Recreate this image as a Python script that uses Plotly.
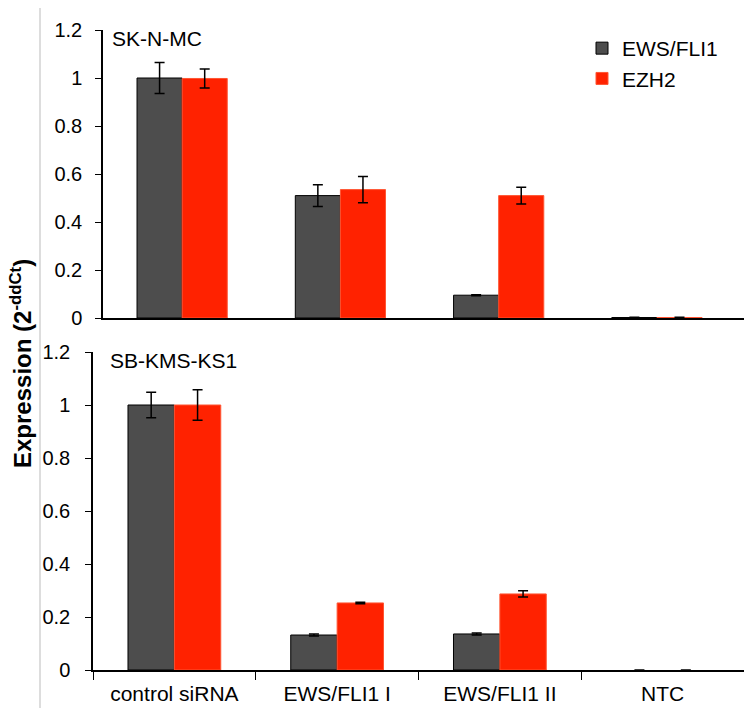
import plotly.graph_objects as go

categories = ["control siRNA", "EWS/FLI1 I", "EWS/FLI1 II", "NTC"]

# SK-N-MC (top panel)
top_ews = [1.0, 0.51, 0.095, 0.002]
top_ews_err = [0.065, 0.045, 0.002, 0.001]
top_ezh2 = [0.998, 0.535, 0.51, 0.002]
top_ezh2_err = [0.04, 0.055, 0.035, 0.001]

# SB-KMS-KS1 (bottom panel)
bot_ews = [1.0, 0.132, 0.136, 0.0]
bot_ews_err = [0.048, 0.004, 0.004, float("nan")]
bot_ezh2 = [1.0, 0.253, 0.287, 0.0]
bot_ezh2_err = [0.058, 0.003, 0.012, float("nan")]

DARK = "#4d4d4d"
RED = "#ff2200"
FONT = "Liberation Sans, Arial, sans-serif"

fig = go.Figure()

def add(vals, errs, color, name, xa, ya, show, lc):
    lw = [0 if v == 0 else 1 for v in vals]
    fig.add_trace(go.Bar(
        x=categories, y=vals, name=name, xaxis=xa, yaxis=ya,
        marker=dict(color=color, line=dict(color=lc, width=lw)),
        error_y=dict(type="data", array=errs, visible=True, color="black",
                     thickness=1.5, width=5),
        showlegend=show, legendgroup=name,
    ))

add(top_ews, top_ews_err, DARK, "EWS/FLI1", "x", "y", True, "black")
add(top_ezh2, top_ezh2_err, RED, "EZH2", "x", "y", True, "#ff5533")
add(bot_ews, bot_ews_err, DARK, "EWS/FLI1", "x2", "y2", False, "black")
add(bot_ezh2, bot_ezh2_err, RED, "EZH2", "x2", "y2", False, "#ff5533")

W, H = 744, 708

def px(v):
    return v / W

def py(v):
    return 1 - v / H

def yax(standoff):
    return dict(range=[0, 1.2], dtick=0.2, showline=True, linecolor="black",
                linewidth=1.5, ticks="outside", ticklen=6, tickcolor="black",
                showgrid=False, zeroline=False, automargin=False,
                tickfont=dict(family=FONT, size=20, color="black"),
                ticklabelstandoff=standoff)

fig.update_layout(
    template="none",
    width=W, height=H,
    margin=dict(l=0, r=0, t=0, b=0, autoexpand=False),
    plot_bgcolor="white", paper_bgcolor="white",
    barmode="group", bargap=0.43, bargroupgap=0,
    font=dict(family=FONT, color="black"),
    xaxis=dict(domain=[px(103), 1], anchor="y", range=[-0.5, 3.55],
               showline=True, linecolor="black", linewidth=1.5,
               ticks="", showticklabels=False, showgrid=False,
               automargin=False),
    yaxis=dict(domain=[py(318), py(30)], anchor="x", **yax(9)),
    xaxis2=dict(domain=[px(93), 1], anchor="y2", range=[-0.5, 3.5],
                showline=True, linecolor="black", linewidth=1.5,
                ticks="outside", tickson="boundaries", ticklen=8,
                tickcolor="black", showgrid=False, automargin=False,
                tickfont=dict(family=FONT, size=21, color="black"),
                ticklabelstandoff=4),
    yaxis2=dict(domain=[py(670), py(352)], anchor="x2", **yax(11)),
    legend=dict(x=px(582), y=py(28), xanchor="left", yanchor="top",
                font=dict(family=FONT, size=21, color="black"),
                tracegroupgap=0, bgcolor="rgba(0,0,0,0)",
                itemwidth=30),
    showlegend=True,
)

fig.add_annotation(text="SK-N-MC", xref="paper", yref="paper",
                   x=px(110), y=py(38), xanchor="left", yanchor="middle",
                   showarrow=False, font=dict(family=FONT, size=21))
fig.add_annotation(text="SB-KMS-KS1", xref="paper", yref="paper",
                   x=px(108), y=py(360), xanchor="left", yanchor="middle",
                   showarrow=False, font=dict(family=FONT, size=21))
fig.add_annotation(text="<b>Expression (2<sup>-ddCt</sup>)</b>", xref="paper",
                   yref="paper", x=px(21), y=py(364), xanchor="center",
                   yanchor="middle", textangle=-90, showarrow=False,
                   font=dict(family=FONT, size=24))

fig.add_shape(type="line", xref="paper", yref="paper",
              x0=px(40), x1=px(40), y0=py(8), y1=0,
              line=dict(color="#bbbbbb", width=1))

fig.write_html("out.html")
